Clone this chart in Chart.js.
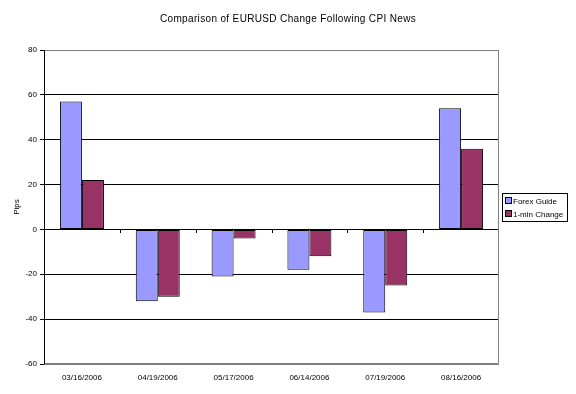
<!DOCTYPE html>
<html>
<head>
<meta charset="utf-8">
<script src="https://cdn.jsdelivr.net/npm/chart.js@4.4.1/dist/chart.umd.min.js"></script>
<style>
  html, body { margin: 0; padding: 0; background: #fff; }
  #wrap { width: 576px; height: 394px; }
</style>
</head>
<body>
<div id="wrap"><canvas id="chart" width="576" height="394"></canvas></div>
<script>
// data
var dates = ['03/16/2006', '04/19/2006', '05/17/2006', '06/14/2006', '07/19/2006', '08/16/2006'];
var forexGuide = [57, -32, -21, -18, -37, 54];
var oneMinChange = [22, -30, -4, -12, -25, 36];
var yTicks = [80, 60, 40, 20, 0, -20, -40, -60];

var chartTitle = 'Comparison of EURUSD Change Following CPI News';
var seriesNames = ['Forex Guide', '1-min Change'];
var seriesColors = ['#9999FF', '#993366'];
var fontName = '"Liberation Sans", Arial, sans-serif';

// title, frame, x tick marks and the legend box
var extras = {
    id: 'extras',
    afterDraw: function(chart) {
        var ctx = chart.ctx;
        var a = chart.chartArea;
        var y0 = chart.scales.y.getPixelForValue(0);
        ctx.save();
        ctx.lineWidth = 1;

        // title centred on the whole picture
        ctx.fillStyle = '#000';
        ctx.font = '10px ' + fontName;
        ctx.letterSpacing = '0.35px';
        ctx.textAlign = 'center';
        ctx.textBaseline = 'middle';
        ctx.fillText(chartTitle, 288, 19);
        ctx.letterSpacing = '0px';
        ctx.textAlign = 'left';

        // gray frame top / right / bottom
        ctx.strokeStyle = '#808080';
        ctx.beginPath();
        ctx.moveTo(a.left, a.top + 0.5);
        ctx.lineTo(a.right - 0.5, a.top + 0.5);
        ctx.lineTo(a.right - 0.5, a.bottom - 0.5);
        ctx.lineTo(a.left, a.bottom - 0.5);
        ctx.stroke();
        // black left axis
        ctx.strokeStyle = '#000';
        ctx.beginPath();
        ctx.moveTo(a.left + 0.5, a.top);
        ctx.lineTo(a.left + 0.5, a.bottom);
        ctx.stroke();
        // category tick marks on the zero line
        var n = dates.length;
        var w = (a.right - a.left) / n;
        ctx.beginPath();
        for (var i = 1; i < n; i++) {
            var x = Math.round(a.left + w * i) + 0.5;
            ctx.moveTo(x, Math.round(y0));
            ctx.lineTo(x, Math.round(y0) + 4);
        }
        ctx.stroke();

        // legend
        var lx = 502, ly = 193, lw = 65, lh = 28;
        ctx.fillStyle = '#fff';
        ctx.fillRect(lx, ly, lw, lh);
        ctx.strokeStyle = '#000';
        ctx.strokeRect(lx + 0.5, ly + 0.5, lw, lh);
        ctx.font = '8px ' + fontName;
        for (var k = 0; k < seriesNames.length; k++) {
            var cy = ly + 8 + k * 13;
            ctx.fillStyle = seriesColors[k];
            ctx.fillRect(lx + 3, cy - 3, 6, 6);
            ctx.strokeRect(lx + 3.5, cy - 3.5, 6, 6);
            ctx.fillStyle = '#000';
            ctx.fillText(seriesNames[k], lx + 11, cy + 0.5);
        }
        ctx.restore();
    }
};

var ctx = document.getElementById('chart').getContext('2d');
new Chart(ctx, {
    type: 'bar',
    data: {
        labels: dates,
        datasets: [
            { label: seriesNames[0], data: forexGuide, backgroundColor: seriesColors[0], borderColor: '#000', borderWidth: 1, borderSkipped: false },
            { label: seriesNames[1], data: oneMinChange, backgroundColor: seriesColors[1], borderColor: '#000', borderWidth: 1, borderSkipped: false }
        ]
    },
    options: {
        responsive: false,
        animation: false,
        devicePixelRatio: 1,
        layout: { padding: { left: 12, right: 77, top: 50, bottom: 0 } },
        datasets: { bar: { categoryPercentage: 0.58, barPercentage: 1.0 } },
        plugins: {
            legend: { display: false },
            tooltip: { enabled: false },
            title: { display: false }
        },
        scales: {
            x: {
                grid: { display: false, drawTicks: false },
                border: { display: false },
                ticks: { color: '#000', font: { family: fontName, size: 8 }, padding: 9, maxRotation: 0 },
                afterFit: function(s) { s.height = 30; }
            },
            y: {
                min: -60,
                max: 80,
                afterBuildTicks: function(s) { s.ticks = yTicks.map(function(v) { return { value: v }; }); },
                grid: {
                    color: function(c) { return (c.tick && (c.tick.value === 80 || c.tick.value === -60)) ? '#808080' : '#000'; },
                    tickColor: '#000',
                    tickLength: 4
                },
                border: { display: false },
                ticks: { color: '#000', font: { family: fontName, size: 8 }, padding: 3 },
                title: { display: true, text: 'Pips', color: '#000', font: { family: fontName, size: 8 }, padding: 0 },
                afterFit: function(s) { s.width = 32; }
            }
        }
    },
    plugins: [extras]
});
</script>
</body>
</html>
